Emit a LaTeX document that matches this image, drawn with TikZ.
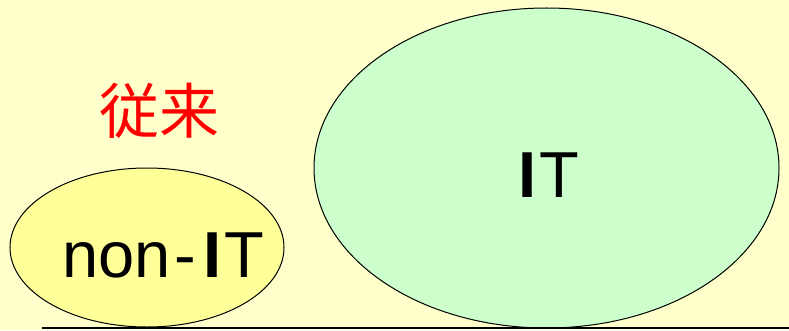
\documentclass[tikz,border=0pt]{standalone}
\usepackage{fontspec}
\setmainfont{Liberation Sans}
\newfontfamily\cjk{Noto Sans CJK JP}
\usetikzlibrary{shapes.geometric}
\definecolor{bgyellow}{HTML}{FFFFCC}
\definecolor{smallfill}{HTML}{FFFF99}
\definecolor{bigfill}{HTML}{CCFFCC}
\definecolor{redtext}{HTML}{FF0000}
\tikzset{
  blob/.style={ellipse, draw=black, line width=1pt, inner sep=0pt},
  label text/.style={inner sep=0pt, font=\fontsize{65}{72}\selectfont},
}
\begin{document}
\begin{tikzpicture}[x=1pt,y=1pt]
\fill[bgyellow] (0,0) rectangle (789,330);
\useasboundingbox (0,0) rectangle (789,330);
\node[blob, fill=smallfill, minimum width=274pt, minimum height=159pt] (small) at (147,82.5) {};
\node[blob, fill=bigfill, minimum width=465pt, minimum height=320pt] (big) at (546.5,162) {};
\node[label text, anchor=base west] (nonit) at (62,53) {non\kern4pt-\kern7pt{\bfseries I}\kern3pt T};
\node[label text, anchor=base west] (it) at (518,133) {{\bfseries I}\kern3pt T};
\node[inner sep=0pt, text=redtext, font=\cjk\fontsize{60}{70}\selectfont] (trad) at (159,219) {従来};
\coordinate (l1) at (42,2.3);
\coordinate (l2) at (789,2.3);
\draw[line width=2pt, black] (l1) -- (l2);
\end{tikzpicture}
\end{document}
